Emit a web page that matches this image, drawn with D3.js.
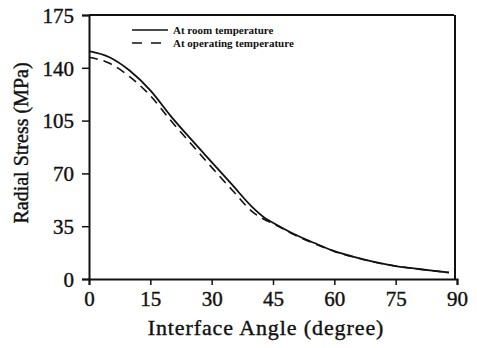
<!DOCTYPE html>
<html><head><meta charset="utf-8">
<script src="https://cdn.jsdelivr.net/npm/d3@7"></script>
<style>
html,body{margin:0;padding:0;background:#fff;}
svg text{font-family:"Liberation Serif","DejaVu Serif",serif;fill:#111;}
</style></head>
<body><svg id="c" width="477" height="348"></svg>
<script>
const angles = [0, 5, 10, 15, 20, 25, 30, 35, 40, 43, 45, 50, 55, 60, 65, 70, 75, 80, 85, 88];
const roomTemp = [151, 147, 138, 125, 108, 92.5, 77.5, 62.5, 47.5, 40.5, 37.3, 30, 24, 18.5, 14.5, 11.2, 8.6, 6.8, 5.2, 4.3];
const operTemp = [147, 143, 134, 121.5, 105, 89.5, 74, 59, 44.5, 39.3, 36.8, 29.6, 23.6, 18.3, 14.4, 11.1, 8.6, 6.8, 5.2, 4.3];
const xTicks = [0, 15, 30, 45, 60, 75, 90];
const yTicks = [0, 35, 70, 105, 140, 175];
const legendLabels = ["At room temperature", "At operating temperature"];

const svg = d3.select("#c");
const x = d3.scaleLinear().domain([0, 90]).range([89, 457]);
const y = d3.scaleLinear().domain([0, 175]).range([279, 15]);

// frame
const gx = svg.append("g").attr("transform", `translate(0,${y(0)})`)
  .call(d3.axisBottom(x).tickValues(xTicks).tickSize(6).tickPadding(6).tickFormat(d3.format("d")));
const gy = svg.append("g").attr("transform", `translate(${x(0)},0)`)
  .call(d3.axisLeft(y).tickValues(yTicks).tickSize(7).tickPadding(8).tickFormat(d3.format("d")));
[gx, gy].forEach(g => {
  g.select(".domain").attr("stroke", "#111").attr("stroke-width", 2);
  g.selectAll(".tick line").attr("stroke", "#111").attr("stroke-width", 1.5);
  g.selectAll(".tick text").attr("font-size", 21).attr("fill", "#111")
    .attr("stroke", "#111").attr("stroke-width", 0.4)
    .attr("font-family", "Liberation Serif, serif");
});
gx.selectAll(".tick text").attr("dy", "0.72em");
gy.selectAll(".tick text").attr("dy", "0.35em");
// top and right borders
svg.append("line").attr("x1", x(0)).attr("x2", x(90) - 3).attr("y1", y(175)).attr("y2", y(175))
  .attr("stroke", "#111").attr("stroke-width", 2);
svg.append("line").attr("x1", x(90) - 2).attr("x2", x(90) - 2).attr("y1", y(175)).attr("y2", y(0))
  .attr("stroke", "#111").attr("stroke-width", 2);

// curves
const line = d3.line().x((d, i) => x(angles[i])).y(d => y(d)).curve(d3.curveMonotoneX);
svg.append("path").datum(roomTemp).attr("d", line).attr("fill", "none")
  .attr("stroke", "#111").attr("stroke-width", 1.8);
svg.append("path").datum(operTemp).attr("d", line).attr("fill", "none")
  .attr("stroke", "#111").attr("stroke-width", 1.6).attr("stroke-dasharray", "9,6");

// legend
const leg = svg.append("g");
legendLabels.forEach((t, i) => {
  const yy = 30 + i * 13;
  leg.append("line").attr("x1", 132).attr("x2", 168).attr("y1", yy).attr("y2", yy)
    .attr("stroke", "#111").attr("stroke-width", 1.5)
    .attr("stroke-dasharray", i === 1 ? "10,9" : null);
  leg.append("text").attr("x", 173).attr("y", yy + 3.5).attr("font-size", 11)
    .attr("font-weight", "bold").text(t);
});

// axis titles
svg.append("text").attr("x", 266).attr("y", 335).attr("text-anchor", "middle")
  .attr("font-size", 22).attr("letter-spacing", 0.9)
  .attr("stroke", "#111").attr("stroke-width", 0.4)
  .text("Interface Angle (degree)");
svg.append("text").attr("transform", "translate(28,143) rotate(-90)").attr("text-anchor", "middle")
  .attr("font-size", 20).attr("stroke", "#111").attr("stroke-width", 0.4)
  .text("Radial Stress (MPa)");
</script></body></html>
